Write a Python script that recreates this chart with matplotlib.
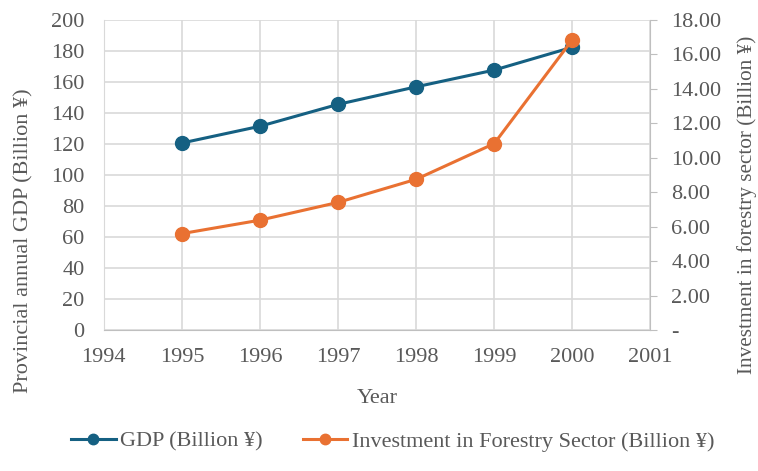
import matplotlib
matplotlib.use("Agg")
import matplotlib.pyplot as plt
from matplotlib.ticker import FixedLocator

plt.rcParams["font.family"] = ["Liberation Serif", "DejaVu Serif"]

years = [1995, 1996, 1997, 1998, 1999, 2000]
gdp = [120.6, 131.4, 145.5, 156.8, 167.6, 182.3]
investment = [5.60, 6.38, 7.41, 8.75, 10.82, 16.84]

gdp_ticks = list(range(0, 201, 20))
inv_ticks = [0, 2, 4, 6, 8, 10, 12, 14, 16, 18]
inv_labels = ["-"] + [f"{v:.2f}" for v in inv_ticks[1:]]

BLUE = "#156082"
ORANGE = "#e97132"
TEXT = "#595959"
GRID = "#d9d9d9"
FS = 16

fig = plt.figure(figsize=(7.58, 4.71), dpi=100)
ax = fig.add_axes([0.137, 0.299, 0.721, 0.659])
ax2 = ax.twinx()

l1, = ax.plot(years, gdp, color=BLUE, lw=2.2, marker="o", ms=10, zorder=3,
              label="GDP (Billion ¥)")
l2, = ax2.plot(years, investment, color=ORANGE, lw=2.2, marker="o", ms=10,
               zorder=3, label="Investment in Forestry Sector (Billion ¥)")

ax.set_xlim(1994, 2001)
ax.set_ylim(0, 200)
ax2.set_ylim(0, 18)
ax.set_xticks(range(1994, 2002))
ax.set_yticks(gdp_ticks)
ax2.yaxis.set_major_locator(FixedLocator(inv_ticks))
ax2.set_yticklabels(inv_labels)

ax.grid(True, color=GRID, lw=1.2)
ax.set_axisbelow(True)
for a in (ax, ax2):
    for s in a.spines.values():
        s.set_visible(False)
ax.spines["bottom"].set_visible(True)
ax.spines["bottom"].set_color("#bfbfbf")
ax.spines["left"].set_visible(True)
ax.spines["left"].set_color(GRID)
ax2.spines["right"].set_visible(True)
ax2.spines["right"].set_color("#bfbfbf")

ax.tick_params(axis="x", length=0, labelsize=FS, labelcolor=TEXT, pad=13)
ax.tick_params(axis="y", length=0, labelsize=FS, labelcolor=TEXT, pad=14)
ax2.tick_params(axis="y", length=5, color="#bfbfbf", labelsize=FS,
                labelcolor=TEXT, pad=10)

ax.set_xlabel("Year", fontsize=FS, color=TEXT, labelpad=16)

# axis titles placed like the reference (centred lower than the plot area)
fig.text(0.031, 0.49, "Provincial annual GDP (Billion ¥)", fontsize=FS,
         color=TEXT, rotation=90, ha="center", va="center")
fig.text(0.9855, 0.565, "Investment in forestry sector (Billion ¥)",
         fontsize=15.3, color=TEXT, rotation=90, ha="center", va="center")

fig.legend(handles=[l1, l2], loc="center", bbox_to_anchor=(0.518, 0.063),
           ncol=2, frameon=False, fontsize=FS, labelcolor=TEXT,
           handlelength=2.0, handletextpad=0.2, columnspacing=1.8,
           markerscale=0.75)

fig.savefig("out.png", dpi=100)
